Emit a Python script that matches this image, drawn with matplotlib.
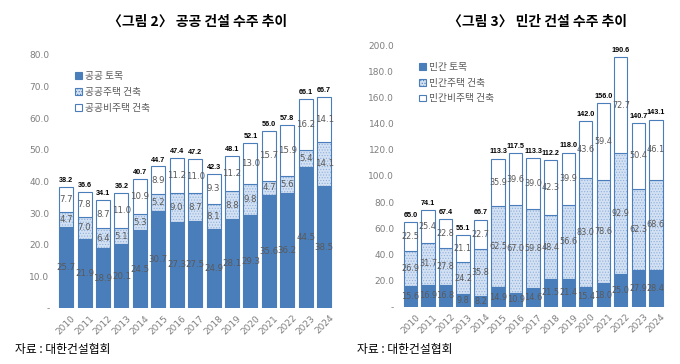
import matplotlib.pyplot as plt
import numpy as np

plt.rcParams['font.family'] = ['Noto Sans CJK KR', 'DejaVu Sans']
plt.rcParams['hatch.linewidth'] = 0.5

years = [str(y) for y in range(2010, 2025)]

pub_civil = [25.7, 21.9, 18.9, 20.1, 24.5, 30.7, 27.3, 27.5, 24.9, 28.1, 29.3, 35.6, 36.2, 44.5, 38.5]
pub_house = [4.7, 7.0, 6.4, 5.1, 5.3, 5.2, 9.0, 8.7, 8.1, 8.8, 9.8, 4.7, 5.6, 5.4, 14.1]
pub_nonhouse = [7.7, 7.8, 8.7, 11.0, 10.9, 8.9, 11.2, 11.0, 9.3, 11.2, 13.0, 15.7, 15.9, 16.2, 14.1]
pub_total = [38.2, 36.6, 34.1, 36.2, 40.7, 44.7, 47.4, 47.2, 42.3, 48.1, 52.1, 56.0, 57.8, 66.1, 66.7]

pri_civil = [15.6, 16.9, 16.8, 9.8, 8.2, 14.9, 10.9, 14.6, 21.5, 21.4, 15.4, 18.0, 25.0, 27.9, 28.4]
pri_house = [26.9, 31.7, 27.8, 24.2, 35.8, 62.5, 67.0, 59.8, 48.4, 56.6, 83.0, 78.6, 92.9, 62.3, 68.6]
pri_nonhouse = [22.5, 25.4, 22.8, 21.1, 22.7, 35.9, 39.6, 39.0, 42.3, 39.9, 43.6, 59.4, 72.7, 50.4, 46.1]
pri_total = [65.0, 74.1, 67.4, 55.1, 66.7, 113.3, 117.5, 113.3, 112.2, 118.0, 142.0, 156.0, 190.6, 140.7, 143.1]

blue = '#4a7ebb'
light = '#d3e1f3'
dots = '#8fb0dc'
gray = '#7f7f7f'
label_col = '#595959'

fig = plt.figure(figsize=(6.8, 3.64), dpi=100)
ax1 = fig.add_axes([0.081, 0.154, 0.412, 0.695])
ax2 = fig.add_axes([0.588, 0.157, 0.392, 0.719])


def draw(ax, civil, house, nonhouse, total, ymax, step, names, fs):
    x = np.arange(len(years))
    w = 0.76
    civil = np.array(civil)
    house = np.array(house)
    nonhouse = np.array(nonhouse)
    ax.bar(x, civil, w, color=blue, edgecolor=blue, linewidth=0.8, label=names[0])
    # dotted fill, then a blue outline on top
    ax.bar(x, house, w, bottom=civil, color=light, edgecolor=dots, hatch='......',
           linewidth=0)
    ax.bar(x, house, w, bottom=civil, fill=False, edgecolor=blue, linewidth=0.8)
    ax.bar(x, nonhouse, w, bottom=civil + house, color='white', edgecolor=blue,
           linewidth=0.8)
    for i in range(len(years)):
        ax.text(x[i], civil[i] / 2, f'{civil[i]:.1f}', ha='center', va='center',
                fontsize=fs, color=label_col, family='DejaVu Sans')
        ax.text(x[i], civil[i] + house[i] / 2, f'{house[i]:.1f}', ha='center', va='center',
                fontsize=fs, color=label_col, family='DejaVu Sans')
        ax.text(x[i], civil[i] + house[i] + nonhouse[i] / 2, f'{nonhouse[i]:.1f}',
                ha='center', va='center', fontsize=fs, color=label_col, family='DejaVu Sans')
        ax.text(x[i], total[i] + ymax * 0.012, f'{total[i]:.1f}', ha='center', va='bottom',
                fontsize=5.2, fontweight='bold', color='black',
                family=['Liberation Sans Narrow', 'Liberation Sans'])
    ax.set_xlim(-0.6, len(years) - 0.4)
    ax.set_ylim(0, ymax)
    ticks = np.arange(0, ymax + step / 2, step)
    ax.set_yticks(ticks)
    ax.set_yticklabels(['-'] + [f'{t:.1f}' for t in ticks[1:]], fontsize=6.5, color=gray,
                       family='DejaVu Sans')
    ax.set_xticks(x)
    ax.set_xticklabels(years, rotation=45, fontsize=6.5, color=gray, family='DejaVu Sans')
    ax.tick_params(length=0, pad=4)
    for s in ax.spines.values():
        s.set_visible(False)
    handles = [
        plt.Rectangle((0, 0), 1, 1, facecolor=blue, edgecolor=blue, linewidth=0.8),
        plt.Rectangle((0, 0), 1, 1, facecolor=light, edgecolor=blue, hatch='......',
                      linewidth=0.8),
        plt.Rectangle((0, 0), 1, 1, facecolor='white', edgecolor=blue, linewidth=0.8),
    ]
    ax.legend(handles, names, loc='upper left', bbox_to_anchor=(0.04, 0.97), frameon=False,
              fontsize=7, handlelength=0.7, handleheight=0.7, handletextpad=0.3,
              labelspacing=0.6, labelcolor=label_col)


draw(ax1, pub_civil, pub_house, pub_nonhouse, pub_total, 80, 10,
     ['공공 토목', '공공주택 건축', '공공비주택 건축'], 6.2)
draw(ax2, pri_civil, pri_house, pri_nonhouse, pri_total, 200, 20,
     ['민간 토목', '민간주택 건축', '민간비주택 건축'], 5.9)

fig.text(0.29, 0.94, '〈그림 2〉 공공 건설 수주 추이', ha='center', va='center', fontsize=10,
         fontweight='bold')
fig.text(0.79, 0.94, '〈그림 3〉 민간 건설 수주 추이', ha='center', va='center', fontsize=10,
         fontweight='bold')
fig.text(0.022, 0.04, '자료 : 대한건설협회', ha='left', va='center', fontsize=8.5)
fig.text(0.525, 0.04, '자료 : 대한건설협회', ha='left', va='center', fontsize=8.5)

fig.savefig('out.png', dpi=100)
